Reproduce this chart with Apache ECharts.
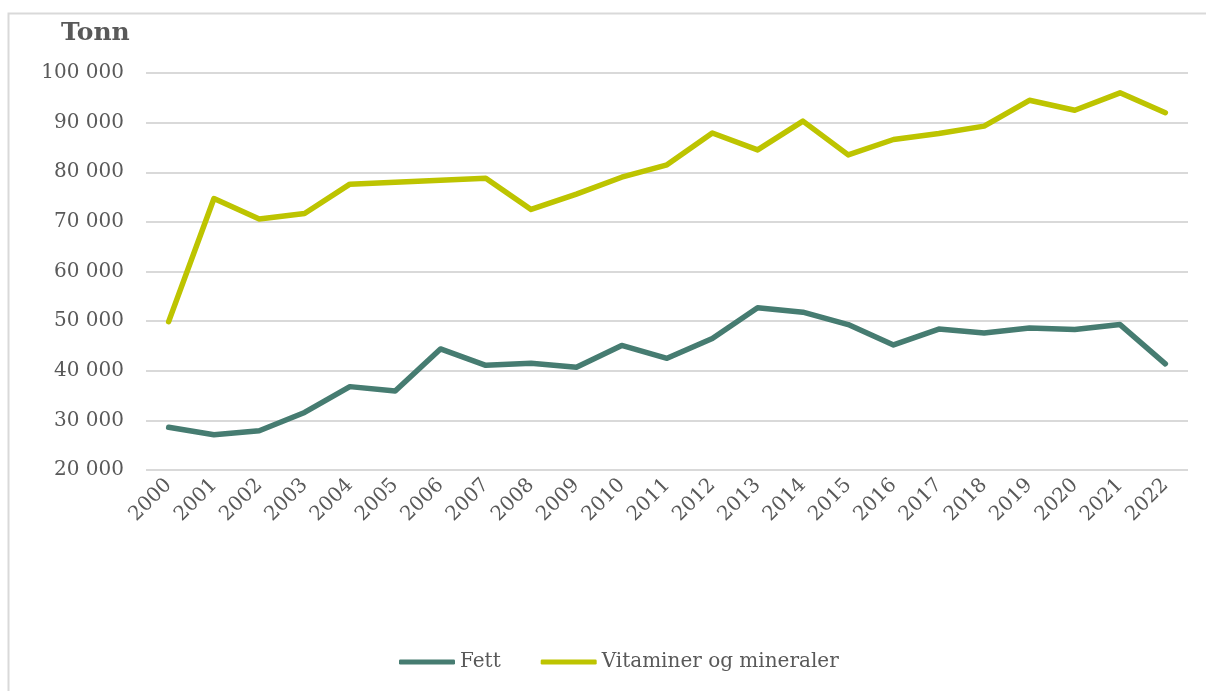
<!DOCTYPE html>
<html>
<head>
<meta charset="utf-8">
<script src="https://cdn.jsdelivr.net/npm/echarts@6/dist/echarts.min.js"></script>
<style>
  html, body { margin: 0; padding: 0; background: #fff; }
  #chart { width: 1206px; height: 691px; }
</style>
</head>
<body>
<div id="chart"></div>
<script>
// år og verdier (tonn)
var years = ['2000','2001','2002','2003','2004','2005','2006','2007','2008','2009','2010',
             '2011','2012','2013','2014','2015','2016','2017','2018','2019','2020','2021','2022'];
var fett = [28600, 27100, 27900, 31600, 36800, 35900, 44400, 41100, 41500, 40700, 45100,
            42500, 46500, 52700, 51800, 49300, 45200, 48400, 47600, 48600, 48300, 49300, 41400];
var vitaminer = [49900, 74700, 70600, 71700, 77600, 78000, 78400, 78800, 72500, 75600, 79000,
                 81500, 87900, 84500, 90300, 83500, 86600, 87800, 89300, 94500, 92500, 96000, 92000];

var font = 'Georgia, "DejaVu Serif", serif';
var grey = '#595959';

var chart = echarts.init(document.getElementById('chart'));
var option = {
  animation: false,
  textStyle: { fontFamily: font },
  graphic: [
    { type: 'rect', shape: { x: 8.5, y: 13.5, width: 1210, height: 700 },
      style: { fill: 'none', stroke: '#d9d9d9', lineWidth: 2 }, silent: true },
    { type: 'text', left: 61, top: 21,
      style: { text: 'Tonn', fill: grey, font: 'bold 25px ' + font } }
  ],
  grid: { left: 146, right: 18, top: 73, bottom: 221, containLabel: false },
  legend: {
    bottom: 14,
    left: 394,
    itemWidth: 56,
    itemHeight: 5,
    itemGap: 40,
    icon: 'roundRect',
    textStyle: { color: grey, fontSize: 20, fontFamily: font },
    data: ['Fett', 'Vitaminer og mineraler']
  },
  xAxis: {
    type: 'category',
    data: years,
    boundaryGap: true,
    axisLine: { show: false },
    axisTick: { show: false },
    axisLabel: { rotate: 45, color: grey, fontSize: 20, fontFamily: font, margin: 12, interval: 0 }
  },
  yAxis: {
    type: 'value',
    min: 20000,
    max: 100000,
    interval: 10000,
    axisLine: { show: false },
    axisTick: { show: false },
    splitLine: { lineStyle: { color: '#d9d9d9', width: 2 } },
    axisLabel: {
      color: grey, fontSize: 20, fontFamily: font, margin: 22,
      formatter: function (v) { return String(v).replace(/\B(?=(\d{3})+(?!\d))/g, ' '); }
    }
  },
  series: [
    { name: 'Fett', type: 'line', data: fett, symbol: 'none',
      lineStyle: { color: '#467c71', width: 5.5, cap: 'round', join: 'round' },
      itemStyle: { color: '#467c71' } },
    { name: 'Vitaminer og mineraler', type: 'line', data: vitaminer, symbol: 'none',
      lineStyle: { color: '#bdc400', width: 5.5, cap: 'round', join: 'round' },
      itemStyle: { color: '#bdc400' } }
  ]
};
chart.setOption(option);
</script>
</body>
</html>
